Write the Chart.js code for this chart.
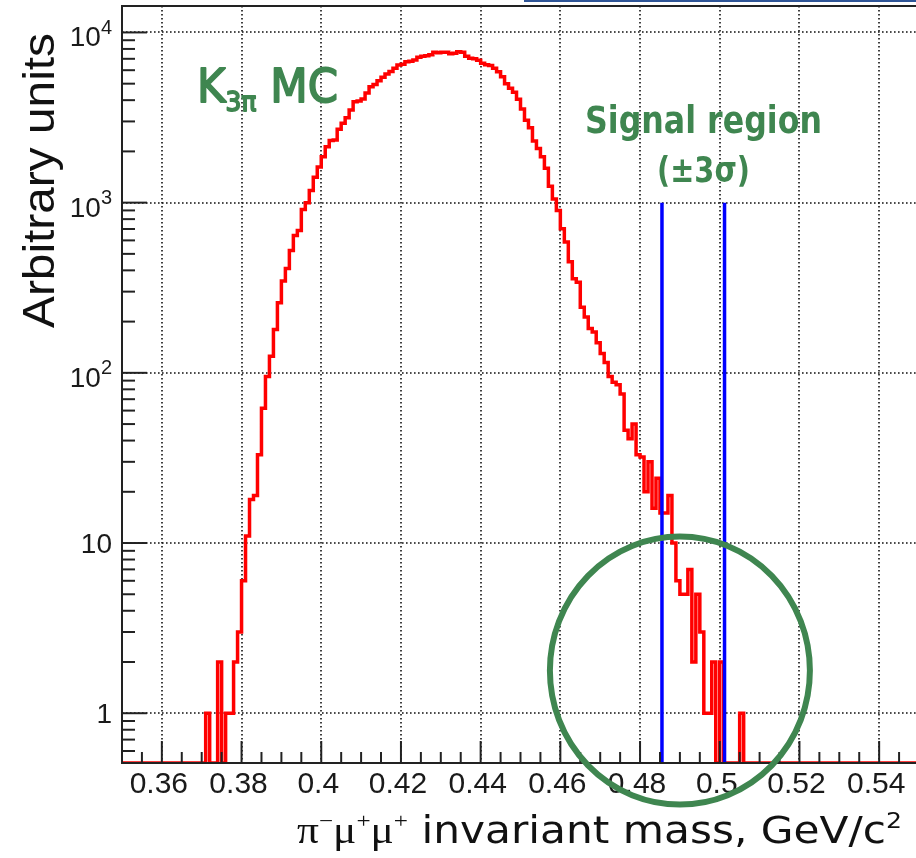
<!DOCTYPE html>
<html>
<head>
<meta charset="utf-8">
<script src="https://cdn.jsdelivr.net/npm/chart.js@4.4.1/dist/chart.umd.min.js"></script>
<style>
  html, body { margin: 0; padding: 0; background: #fff; overflow: hidden; }
  #wrap { position: relative; width: 916px; height: 858px; overflow: hidden; }
  #topRule { position: absolute; left: 524px; top: 0; width: 392px; height: 2px; background: #2f5597; }
  canvas { position: absolute; left: 0; top: 0; }
</style>
</head>
<body>
<div id="wrap">
  <canvas id="c" width="920" height="858"></canvas>
  <div id="topRule"></div>
</div>
<script>
// K3pi MC, pi- mu+ mu+ invariant mass; 1 MeV bins, first bin starts at 0.370 GeV
const binStart = 0.370;
const binWidth = 0.001;
const counts = [
  0, 1, 0, 0, 2, 0, 1, 1, 2, 3,                               // 0.370
  6, 11, 18, 19, 33, 62, 95, 125, 180, 258,                   // 0.380
  346, 410, 523, 642, 687, 910, 1000, 1180, 1410, 1620,       // 0.390
  1860, 2130, 2320, 2330, 2700, 2930, 3150, 3500, 3920, 3950, // 0.400
  4070, 4400, 4800, 4950, 5200, 5450, 5700, 5900, 6150, 6430, // 0.410
  6500, 6730, 6770, 6890, 7150, 7250, 7300, 7400, 7650, 7600, // 0.420
  7650, 7650, 7500, 7550, 7700, 7650, 7250, 7050, 7000, 6870, // 0.430
  6600, 6450, 6400, 6150, 5870, 5490, 5000, 4700, 4450, 4050, // 0.440
  3550, 3050, 2750, 2300, 2080, 1860, 1590, 1250, 1050, 900,  // 0.450
  703, 588, 449, 357, 341, 243, 213, 182, 174, 150,           // 0.460
  130, 115, 95, 88, 85, 75, 46, 41, 50, 33,                   // 0.470
  32, 20, 30, 16, 24, 15, 15, 19, 10, 6,                      // 0.480
  5, 5, 7, 2, 5, 3, 1, 1, 2, 0,                               // 0.490
  2, 0, 0, 0, 0, 1                                            // 0.500
];

const xRange = [0.35, 0.55];
const yRange = [0.51, 14300];
const xTickValues = [0.36, 0.38, 0.40, 0.42, 0.44, 0.46, 0.48, 0.50, 0.52, 0.54];
const yTickValues = [1, 10, 100, 1000, 10000];

// signal window lines and the highlight ring
const signalEdges = [0.4855, 0.5012];
const signalTop = 1000;
const ringCentre = [0.490, 1.78];

const SANS = '"DejaVu Sans", sans-serif';
const SERIF = '"Liberation Serif", "DejaVu Serif", serif';
const AXIS_FONT = '"Liberation Sans", Arial, sans-serif';
const GREEN = '#3f8650';

// empty bins sit on the bottom of the log axis, like ROOT draws them
const histPoints = [{ x: xRange[0], y: yRange[0] }];
counts.forEach((n, i) => {
  histPoints.push({ x: +(binStart + i * binWidth).toFixed(4), y: n > 0 ? n : yRange[0] });
});
histPoints.push({ x: +(binStart + counts.length * binWidth).toFixed(4), y: yRange[0] });
histPoints.push({ x: xRange[1], y: yRange[0] });

const signalSets = signalEdges.map(m => ({
  data: [{ x: m, y: yRange[0] }, { x: m, y: signalTop }],
  borderColor: '#0000ff',
  borderWidth: 3.5,
  pointRadius: 0,
  order: 0
}));

// draw a row of text runs, squeezed horizontally to a target width
function drawRuns(ctx, runs, x, y, align, width, outline) {
  let total = 0;
  runs.forEach(r => { ctx.font = r.font; r.w = ctx.measureText(r.text).width; total += r.w; });
  const sx = width ? width / total : 1;
  const start = align === 'right' ? x - total * sx : align === 'center' ? x - total * sx / 2 : x;
  ctx.save();
  ctx.translate(start, y);
  ctx.scale(sx, 1);
  ctx.textAlign = 'left';
  ctx.textBaseline = 'alphabetic';
  if (outline) { ctx.strokeStyle = ctx.fillStyle; ctx.lineWidth = outline; ctx.lineJoin = 'round'; }
  let cx = 0;
  runs.forEach(r => {
    ctx.font = r.font;
    ctx.fillText(r.text, cx, r.dy || 0);
    if (outline) ctx.strokeText(r.text, cx, r.dy || 0);
    cx += r.w;
  });
  ctx.restore();
}

function seg(ctx, x0, y0, x1, y1) {
  ctx.beginPath(); ctx.moveTo(x0, y0); ctx.lineTo(x1, y1); ctx.stroke();
}

const rootFrame = {
  id: 'rootFrame',
  beforeDatasetsDraw(chart) {
    const { ctx, chartArea: a, scales: { x, y } } = chart;
    ctx.save();
    ctx.strokeStyle = '#111';
    ctx.lineWidth = 1.6;
    ctx.setLineDash([1.6, 2.4]);
    xTickValues.forEach(v => {
      const px = Math.round(x.getPixelForValue(v));
      seg(ctx, px, a.top, px, a.bottom);
    });
    yTickValues.forEach(v => {
      const py = Math.round(y.getPixelForValue(v));
      seg(ctx, a.left, py, a.right, py);
    });
    ctx.restore();
  },
  afterDatasetsDraw(chart) {
    const { ctx, chartArea: a, scales: { x, y } } = chart;
    ctx.save();
    ctx.strokeStyle = '#222';
    ctx.lineWidth = 2;
    ctx.strokeRect(a.left, a.top, a.right - a.left, a.bottom - a.top);

    // inward ticks, x: majors every 0.02, minors every 0.005
    for (let k = 0; k <= 40; k++) {
      const v = xRange[0] + k * 0.005;
      const major = Math.abs(v * 50 - Math.round(v * 50)) < 1e-6;
      const px = x.getPixelForValue(v);
      seg(ctx, px, a.bottom, px, a.bottom - (major ? 22 : 11));
    }
    // y: decades and 2..9 subdivisions
    for (let d = -1; d <= 4; d++) {
      for (let m = 1; m <= 9; m++) {
        const v = m * Math.pow(10, d);
        if (v < yRange[0] || v > yRange[1]) continue;
        const py = y.getPixelForValue(v);
        seg(ctx, a.left, py, a.left + (m === 1 ? 25 : 13), py);
      }
    }

    // y labels with exponents
    ctx.fillStyle = '#1a1a1a';
    ctx.textBaseline = 'alphabetic';
    const right = 112;
    yTickValues.forEach(v => {
      const e = Math.round(Math.log10(v));
      const py = y.getPixelForValue(v);
      ctx.textAlign = 'right';
      if (e < 2) {
        ctx.font = '28px ' + AXIS_FONT;
        ctx.fillText(String(v), right, py + 10);
      } else {
        ctx.font = '20px ' + AXIS_FONT;
        const sw = ctx.measureText(String(e)).width;
        ctx.fillText(String(e), right, py + 1.5);
        ctx.font = '28px ' + AXIS_FONT;
        ctx.fillText('10', right - sw, py + 14);
      }
    });
    ctx.restore();
  },
  afterDraw(chart) {
    const { ctx, scales: { x, y } } = chart;
    ctx.save();
    ctx.fillStyle = '#111';

    // axis titles
    drawRuns(ctx, [
      { text: 'π', font: '38px ' + SERIF },
      { text: '−', font: '22px ' + SERIF, dy: -15 },
      { text: 'μ', font: '38px ' + SERIF },
      { text: '+', font: '22px ' + SERIF, dy: -15 },
      { text: 'μ', font: '38px ' + SERIF },
      { text: '+', font: '22px ' + SERIF, dy: -15 },
      { text: ' invariant mass, GeV/c', font: '37px ' + SANS },
      { text: '2', font: '22px ' + SANS, dy: -15 }
    ], 902, 843, 'right', 605);

    ctx.save();
    ctx.translate(54, 33);
    ctx.rotate(-Math.PI / 2);
    drawRuns(ctx, [{ text: 'Arbitrary units', font: '44px ' + AXIS_FONT }], 0, 0, 'right', 295);
    ctx.restore();

    // annotations
    ctx.fillStyle = GREEN;
    drawRuns(ctx, [
      { text: 'K', font: '47px ' + SANS },
      { text: '3π', font: '27px ' + SANS, dy: 9 },
      { text: ' MC', font: '47px ' + SANS }
    ], 197, 102, 'left', 141, 1.8);
    drawRuns(ctx, [{ text: 'Signal region', font: 'bold 37px ' + SANS }], 703.5, 133, 'center', 237);
    drawRuns(ctx, [{ text: '(±3σ)', font: 'bold 35px ' + SANS }], 703.5, 182, 'center', 93);

    ctx.strokeStyle = GREEN;
    ctx.lineWidth = 6;
    ctx.beginPath();
    ctx.ellipse(x.getPixelForValue(ringCentre[0]), y.getPixelForValue(ringCentre[1]), 130, 134, 0, 0, Math.PI * 2);
    ctx.stroke();
    ctx.restore();
  }
};

new Chart(document.getElementById('c'), {
  type: 'line',
  data: {
    datasets: [{
      data: histPoints,
      borderColor: '#ff0000',
      borderWidth: 3.5,
      pointRadius: 0,
      stepped: 'before',
      fill: false,
      order: 1
    }].concat(signalSets)
  },
  options: {
    responsive: false,
    devicePixelRatio: 1,
    animation: false,
    layout: { padding: { top: 6, right: 1, left: 0, bottom: 0 } },
    plugins: { legend: { display: false }, tooltip: { enabled: false } },
    scales: {
      x: {
        type: 'linear',
        min: xRange[0],
        max: xRange[1],
        afterBuildTicks: s => { s.ticks = xTickValues.map(v => ({ value: v })); },
        afterFit: s => { s.height = 95; },
        grid: { display: false, drawTicks: false },
        border: { display: false },
        ticks: {
          autoSkip: false,
          maxRotation: 0,
          padding: 4,
          labelOffset: -3,
          color: '#1a1a1a',
          font: { family: AXIS_FONT, size: 30 },
          callback: v => String(+v.toFixed(2))
        }
      },
      y: {
        type: 'logarithmic',
        min: yRange[0],
        max: yRange[1],
        afterFit: s => { s.width = 122; },
        grid: { display: false, drawTicks: false },
        border: { display: false },
        ticks: { display: false }
      }
    }
  },
  plugins: [rootFrame]
});
</script>
</body>
</html>
